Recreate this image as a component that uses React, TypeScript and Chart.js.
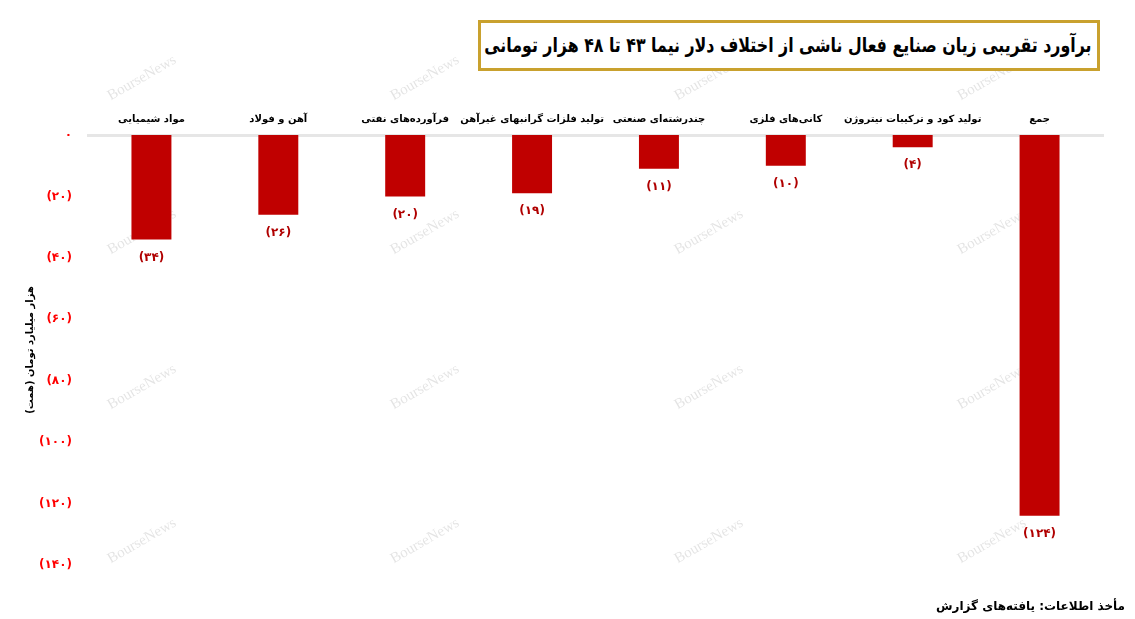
import React, { useEffect, useRef } from "react";
import { Chart, registerables } from "chart.js";

Chart.register(...registerables);

const titleText = "برآورد تقریبی زیان صنایع فعال ناشی از اختلاف دلار نیما ۴۳ تا ۴۸ هزار تومانی";
const sourceText = "مأخذ اطلاعات: یافته‌های گزارش";
const yAxisTitle = "هزار میلیارد تومان (همت)";
const watermarkText = "BourseNews";

const categories = [
  "مواد شیمیایی",
  "آهن و فولاد",
  "فرآورده‌های نفتی",
  "تولید فلزات گرانبهای غیرآهن",
  "چندرشته‌ای صنعتی",
  "کانی‌های فلزی",
  "تولید کود و ترکیبات نیتروژن",
  "جمع",
];
const losses = [-34, -26, -20, -19, -11, -10, -4, -124];
const yMin = -140;
const yMax = 0;
const yStep = 20;

const watermarkXs = [142, 425, 709, 992];
const watermarkYs = [78, 232, 387, 541];

const FONT = "'DejaVu Sans', sans-serif";

const faDigits = "۰۱۲۳۴۵۶۷۸۹";
const toFa = (n: number) => String(n).replace(/[0-9]/g, (d) => faDigits[Number(d)]);
const fmtNeg = (v: number) => (v === 0 ? toFa(0) : "(" + toFa(Math.abs(v)) + ")");

const watermarkPlugin = {
  id: "watermark",
  beforeDatasetsDraw(chart: any) {
    const ctx = chart.ctx;
    ctx.save();
    ctx.fillStyle = "rgba(0,0,0,0.11)";
    ctx.font = "15px 'Liberation Serif', serif";
    ctx.textAlign = "center";
    ctx.textBaseline = "middle";
    for (const y of watermarkYs) {
      for (const x of watermarkXs) {
        ctx.save();
        ctx.translate(x, y);
        ctx.rotate(-Math.PI / 6);
        ctx.fillText(watermarkText, 0, 0);
        ctx.restore();
      }
    }
    ctx.restore();
  },
};

const valueLabelPlugin = {
  id: "valueLabels",
  afterDatasetsDraw(chart: any) {
    const ctx = chart.ctx;
    const meta = chart.getDatasetMeta(0);
    const data = chart.data.datasets[0].data as number[];
    ctx.save();
    ctx.fillStyle = "#b00000";
    ctx.font = `bold 12px ${FONT}`;
    ctx.textAlign = "center";
    ctx.textBaseline = "middle";
    meta.data.forEach((bar: any, i: number) => {
      ctx.fillText(fmtNeg(data[i]), bar.x, bar.y + 18);
    });
    ctx.restore();
  },
};

export default function App() {
  const canvasRef = useRef<HTMLCanvasElement | null>(null);

  useEffect(() => {
    document.body.style.margin = "0";
    const canvas = canvasRef.current;
    if (!canvas) return;
    const chart = new Chart(canvas, {
      type: "bar",
      data: {
        labels: categories,
        datasets: [
          {
            data: losses,
            backgroundColor: "#c00000",
            borderWidth: 0,
            barPercentage: 0.315,
            categoryPercentage: 1,
          },
        ],
      },
      options: {
        animation: false,
        responsive: false,
        devicePixelRatio: 1,
        layout: { padding: { left: 0, right: 32, top: 0, bottom: 54 } },
        plugins: {
          legend: { display: false },
          tooltip: { enabled: false },
          title: { display: false },
        },
        scales: {
          x: {
            position: "top",
            grid: { display: false },
            border: { display: true, color: "#e6e6e6", width: 3 },
            ticks: {
              color: "#000000",
              font: { family: FONT, size: 10, weight: "bold" },
              padding: 2,
              maxRotation: 0,
              autoSkip: false,
            },
            afterFit: (scale: any) => {
              scale.height = 135;
            },
          },
          y: {
            min: yMin,
            max: yMax,
            grid: { display: false },
            border: { display: false },
            ticks: {
              stepSize: yStep,
              color: "#ff0000",
              font: { family: FONT, size: 12, weight: "bold" },
              padding: 8,
              callback: (v: any) => fmtNeg(Number(v)),
            },
            title: {
              display: true,
              text: yAxisTitle,
              color: "#000000",
              font: { family: FONT, size: 10, weight: "bold" },
              padding: { top: 24, bottom: 0 },
            },
            afterFit: (scale: any) => {
              scale.width = 88;
            },
          },
        },
      },
      plugins: [watermarkPlugin, valueLabelPlugin],
    });
    return () => chart.destroy();
  }, []);

  return (
    <div style={{ position: "relative", width: 1135, height: 619, background: "#ffffff", overflow: "hidden" }}>
      <canvas ref={canvasRef} width={1135} height={619} dir="rtl" style={{ position: "absolute", left: 0, top: 0 }} />
      <div
        dir="rtl"
        style={{
          position: "absolute",
          left: 478,
          top: 20,
          width: 622,
          height: 51,
          boxSizing: "border-box",
          border: "3px solid #c9a12e",
          background: "#ffffff",
          fontFamily: FONT,
          fontWeight: "bold",
          fontSize: 20,
          lineHeight: "45px",
          paddingRight: 6,
          color: "#000",
          whiteSpace: "nowrap",
          textAlign: "right",
          overflow: "hidden",
        }}
      >
        <span style={{ display: "inline-block", transform: "scaleX(0.79)", transformOrigin: "right center" }}>
          {titleText}
        </span>
      </div>
      <div
        dir="rtl"
        style={{
          position: "absolute",
          right: 10,
          top: 599,
          fontFamily: FONT,
          fontWeight: "bold",
          fontSize: 12,
          color: "#000",
          whiteSpace: "nowrap",
        }}
      >
        {sourceText}
      </div>
    </div>
  );
}
